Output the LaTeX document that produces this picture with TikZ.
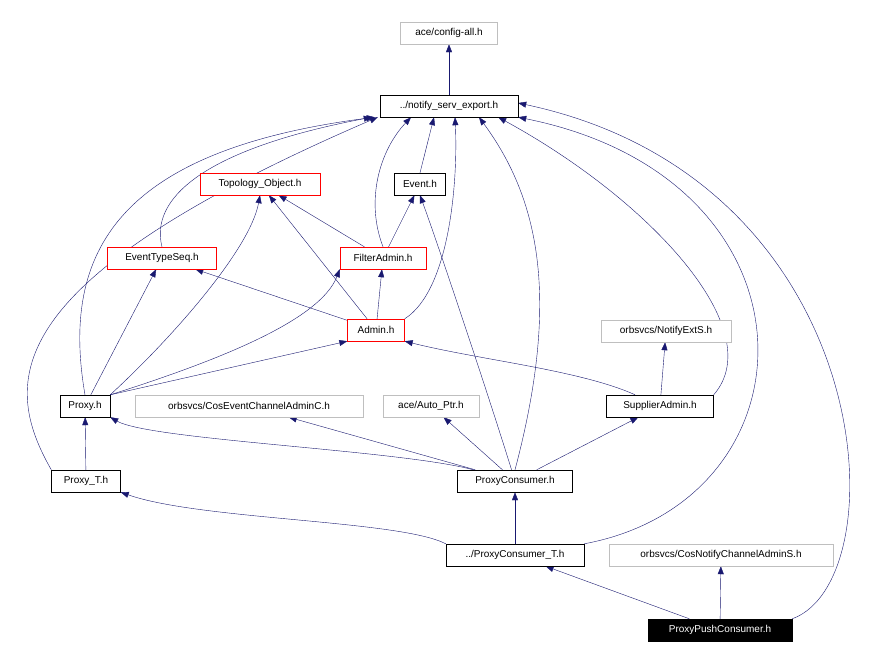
\documentclass[tikz,border=0pt]{standalone}
\usepackage{fontspec}
\setmainfont{Liberation Sans}
\usetikzlibrary{arrows.meta}
\definecolor{edge}{HTML}{191970}
\pgfdeclarelayer{bg}\pgfsetlayers{bg,main}
\begin{document}
\begin{tikzpicture}[x=1pt,y=-1pt,
  n/.style={draw=black,fill=white,font=\fontsize{10}{11}\selectfont,minimum height=22pt,inner xsep=3pt,inner ysep=0pt},
  g/.style={n,draw=gray!50},
  r/.style={n,draw=red},
  e/.style={draw=edge,-{Triangle[length=8pt,width=6pt]}}]
\useasboundingbox (0,0) rectangle (888,659);
\node[g,minimum width=97pt] (cfg) at (449,33) {ace/config-all.h};
\node[n,minimum width=138pt] (ns) at (449,106) {../notify\_serv\_export.h};
\node[r,minimum width=120pt] (to) at (260,184) {Topology\_Object.h};
\node[n,minimum width=51pt] (ev) at (420,184) {Event.h};
\node[r,minimum width=109pt] (ets) at (162,258) {EventTypeSeq.h};
\node[r,minimum width=86pt] (fa) at (383,258) {FilterAdmin.h};
\node[r,minimum width=57pt] (ad) at (376,330) {Admin.h};
\node[g,minimum width=130pt] (nx) at (666,331) {orbsvcs/NotifyExtS.h};
\node[n,minimum width=50pt] (px) at (85,406) {Proxy.h};
\node[g,minimum width=228pt] (cec) at (249,406) {orbsvcs/CosEventChannelAdminC.h};
\node[g,minimum width=96pt] (ap) at (431,406) {ace/Auto\_Ptr.h};
\node[n,minimum width=107pt] (sa) at (660,406) {SupplierAdmin.h};
\node[n,minimum width=69pt] (pt) at (86,481) {Proxy\_T.h};
\node[n,minimum width=115pt] (pc) at (515,481) {ProxyConsumer.h};
\node[n,minimum width=138pt] (pct) at (515,555) {../ProxyConsumer\_T.h};
\node[g,minimum width=224pt] (cnc) at (721,555) {orbsvcs/CosNotifyChannelAdminS.h};
\node[n,fill=black,text=white,minimum width=144pt] (ppc) at (720,630) {ProxyPushConsumer.h};

\begin{pgfonlayer}{bg}
\draw[e] (ns) -- (cfg);
\draw[e] (ets.north) .. controls (150,200) and (200,150) .. ([xshift=-8pt]ns.south west);
\draw[e] (px.north) .. controls (60,250) and (120,150) .. ([xshift=-5pt]ns.south west);
\draw[e] (pt.north west) .. controls (0,380) and (0,280) .. ([xshift=-2pt]ns.south west);
\draw[e] (fa.north) .. controls (365,200) and (380,150) .. ([xshift=-38pt]ns.south);
\draw[e] (ev.north) -- ([xshift=-15pt]ns.south);
\draw[e] (ad.north east) .. controls (450,290) and (458,180) .. ([xshift=6pt]ns.south);
\draw[e] (pc.north) .. controls (560,300) and (540,200) .. ([xshift=30pt]ns.south);
\path (ns.south east) ++(-20pt,0) coordinate (k);
\draw[e] (sa.north east) .. controls (770,330) and (650,200) .. (k);
\draw[e] (pct.north east) .. controls (820,500) and (830,180) .. (ns.south east);
\draw[e] (ppc.north east) .. controls (900,580) and (880,180) .. ([yshift=3pt]ns.east);
\draw[e] (fa) -- (to);
\draw[e] (fa) -- (ev);
\draw[e] (ad) -- (to);
\draw[e] (ad) -- (ets);
\draw[e] (ad) -- (fa);
\draw[e] (px.north east) .. controls (170,340) and (250,250) .. (to.south);
\draw[e] (px) -- (ets);
\draw[e] (px.north east) .. controls (220,360) and (320,320) .. (fa.south west);
\draw[e] (px.north east) -- (ad.south west);
\draw[e] (pt) -- (px);
\draw[e] (pc) .. controls (400,450) and (150,440) .. (px.south east);
\draw[e] (pc) -- (cec);
\draw[e] (pc) -- (ap);
\draw[e] (pc) .. controls (490,400) and (440,250) .. (ev.south);
\draw[e] (pc) -- (sa);
\draw[e] (sa) .. controls (580,370) and (480,360) .. (ad.south east);
\draw[e] (sa) -- (nx);
\draw[e] (pct) -- (pc);
\draw[e] (pct.north west) .. controls (400,520) and (200,520) .. (pt.south east);
\draw[e] (ppc) -- (pct);
\draw[e] (ppc) -- (cnc);
\end{pgfonlayer}
\end{tikzpicture}
\end{document}
